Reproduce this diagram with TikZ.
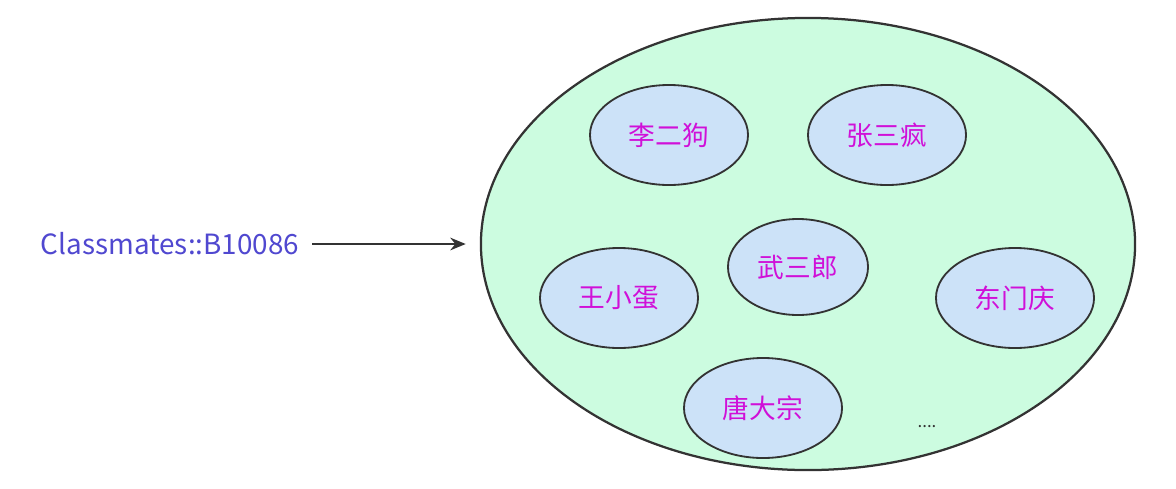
\documentclass[tikz,border=0pt]{standalone}
\usepackage{fontspec}
\setmainfont{Noto Sans CJK SC}
\usepackage{tikz}
\usetikzlibrary{shapes.geometric,arrows.meta}
\definecolor{setfill}{HTML}{CCFCE0}
\definecolor{stufill}{HTML}{CCE2F8}
\definecolor{stutext}{HTML}{D010D8}
\definecolor{reftext}{HTML}{5048D0}
\definecolor{edge}{HTML}{333333}

\begin{document}
\begin{tikzpicture}[x=0.025cm,y=-0.025cm]
\tikzstyle{classset}=[ellipse,draw=edge,line width=1.6pt,fill=setfill,minimum width=16.35cm,minimum height=11.3cm]
\tikzstyle{student}=[ellipse,draw=edge,line width=1.3pt,fill=stufill,minimum width=3.95cm,minimum height=2.5cm,text=stutext,font=\fontsize{19}{22}\selectfont]
\useasboundingbox[fill=white] (0,0) rectangle (1176,488);
\node [classset] (set) at (808,244) {};
\node [student] (li) at (669,135) {李二狗};
\node [student] (zhang) at (887,135) {张三疯};
\node [student,minimum width=3.5cm,minimum height=2.4cm] (wu) at (798,267) {武三郎};
\node [student] (wang) at (619,298) {王小蛋};
\node [student] (dong) at (1015,298) {东门庆};
\node [student] (tang) at (763,408) {唐大宗};
\node [font=\fontsize{12}{14}\selectfont,text=edge] (more) at (927,427) {....};
\node [text=reftext,font=\fontsize{19.8}{22}\selectfont] (ref) at (170,244) {Classmates::B10086};
\draw [line width=1.4pt,draw=edge,-{Stealth[length=11pt,width=9pt]},shorten <=6pt,shorten >=10pt] (ref) -- (set);
\end{tikzpicture}
\end{document}
